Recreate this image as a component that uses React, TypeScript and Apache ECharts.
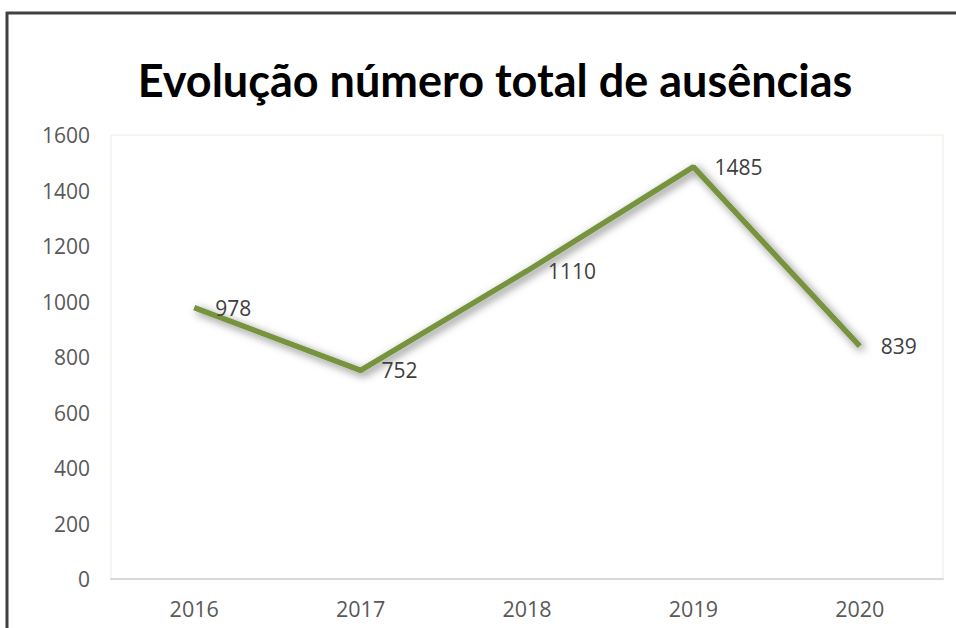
import React, { useEffect, useRef } from "react";
import * as echarts from "echarts";

const categories = ["2016", "2017", "2018", "2019", "2020"];
const values = [978, 752, 1110, 1485, 839];
const titleText = "Evolução número total de ausências";

export default function App() {
  const ref = useRef<HTMLDivElement>(null);
  useEffect(() => {
    if (!ref.current) return;
    const chart = echarts.init(ref.current, null, { renderer: "svg" });
    chart.setOption({
      animation: false,
      backgroundColor: "#ffffff",
      textStyle: { fontFamily: "Open Sans" },
      graphic: [
        { type: "line", shape: { x1: 6, y1: 13, x2: 956, y2: 13 }, style: { stroke: "#404040", lineWidth: 3 } },
        { type: "line", shape: { x1: 7, y1: 12, x2: 7, y2: 628 }, style: { stroke: "#404040", lineWidth: 3 } },
        {
          type: "text",
          x: 495,
          y: 80,
          style: {
            text: titleText,
            fontFamily: "Lato",
            fontWeight: "bold",
            fontSize: 45,
            fill: "#000000",
            textAlign: "center",
            textVerticalAlign: "middle",
          },
        },
      ],
      grid: {
        left: 111,
        right: 13,
        top: 135,
        bottom: 49,
        show: true,
        borderColor: "#EEECE1",
        borderWidth: 1,
        containLabel: false,
      },
      xAxis: {
        type: "category",
        data: categories,
        boundaryGap: true,
        axisLine: { show: true, lineStyle: { color: "#D9D9D9", width: 2 } },
        axisTick: { show: false },
        axisLabel: { color: "#595959", fontSize: 21.5, margin: 18, fontFamily: "Open Sans" },
      },
      yAxis: {
        type: "value",
        min: 0,
        max: 1600,
        interval: 200,
        axisLine: { show: false },
        axisTick: { show: false },
        splitLine: { show: false },
        axisLabel: {
          color: "#595959",
          fontSize: 21,
          margin: 21,
          fontFamily: "Open Sans",
          formatter: (v: number) => String(v),
        },
      },
      series: [
        {
          type: "line",
          data: values,
          symbol: "circle",
          symbolSize: 0,
          lineStyle: {
            color: "#77933C",
            width: 5.5,
            shadowColor: "rgba(0,0,0,0.5)",
            shadowBlur: 8,
            shadowOffsetX: 3,
            shadowOffsetY: 3,
          },
          itemStyle: { color: "#77933C" },
          label: {
            show: true,
            position: "right",
            distance: 21,
            color: "#404040",
            fontSize: 21,
            fontFamily: "Open Sans",
          },
        },
      ],
    });
    return () => chart.dispose();
  }, []);
  return (
    <div
      ref={ref}
      style={{ position: "fixed", left: 0, top: 0, width: 956, height: 628 }}
    />
  );
}
